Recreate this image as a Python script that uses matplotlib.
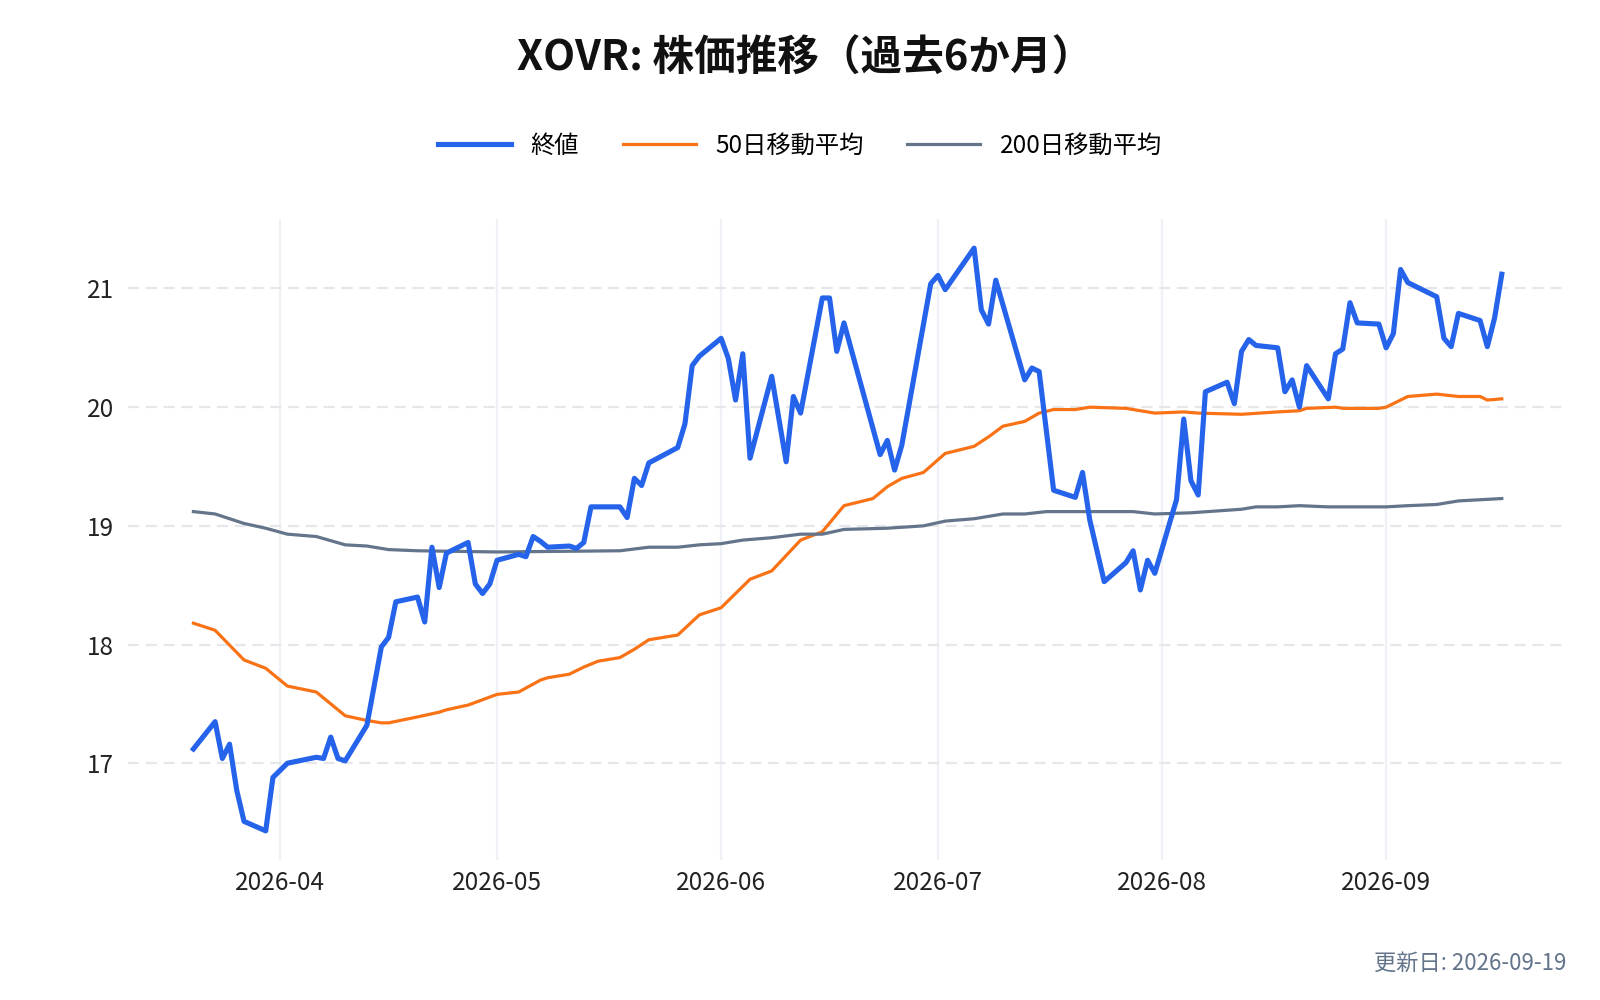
import matplotlib
matplotlib.use("Agg")
import matplotlib.pyplot as plt
import matplotlib.dates as mdates
import pandas as pd

plt.rcParams['font.family'] = ['Noto Sans CJK JP', 'DejaVu Sans']

title = "XOVR: 株価推移（過去6か月）"
series_names = ["終値", "50日移動平均", "200日移動平均"]
footer = "更新日: 2026-09-19"

close_dates = [
    "03-20", "03-23", "03-24", "03-25", "03-26", "03-27", "03-30", "03-31",
    "04-02", "04-06", "04-07", "04-08", "04-09", "04-10", "04-13", "04-15",
    "04-16", "04-17", "04-20", "04-21", "04-22", "04-23", "04-24", "04-27",
    "04-28", "04-29", "04-30", "05-01", "05-04", "05-05", "05-06", "05-07",
    "05-08", "05-11", "05-12", "05-13", "05-14", "05-18", "05-19", "05-20",
    "05-21", "05-22", "05-26", "05-27", "05-28", "05-29", "06-01", "06-02",
    "06-03", "06-04", "06-05", "06-08", "06-10", "06-11", "06-12", "06-15",
    "06-16", "06-17", "06-18", "06-23", "06-24", "06-25", "06-26", "06-30",
    "07-01", "07-02", "07-06", "07-07", "07-08", "07-09", "07-13", "07-14",
    "07-15", "07-17", "07-20", "07-21", "07-22", "07-24", "07-27", "07-28",
    "07-29", "07-30", "07-31", "08-03", "08-04", "08-05", "08-06", "08-07",
    "08-10", "08-11", "08-12", "08-13", "08-14", "08-17", "08-18", "08-19",
    "08-20", "08-21", "08-24", "08-25", "08-26", "08-27", "08-28", "08-31",
    "09-01", "09-02", "09-03", "09-04", "09-08", "09-09", "09-10", "09-11",
    "09-14", "09-15", "09-16", "09-17",
]
close_values = [
    17.12, 17.35, 17.04, 17.16, 16.77, 16.51, 16.43, 16.88,
    17.00, 17.05, 17.04, 17.22, 17.04, 17.02, 17.32, 17.98,
    18.06, 18.36, 18.40, 18.19, 18.82, 18.48, 18.77, 18.86,
    18.51, 18.43, 18.51, 18.71, 18.76, 18.74, 18.91, 18.87,
    18.82, 18.83, 18.81, 18.86, 19.16, 19.16, 19.07, 19.40,
    19.34, 19.53, 19.66, 19.86, 20.35, 20.43, 20.58, 20.41,
    20.06, 20.45, 19.57, 20.26, 19.54, 20.09, 19.95, 20.92,
    20.92, 20.47, 20.71, 19.60, 19.72, 19.47, 19.68, 21.04,
    21.11, 20.99, 21.34, 20.82, 20.70, 21.07, 20.23, 20.33,
    20.30, 19.30, 19.24, 19.45, 19.05, 18.53, 18.69, 18.79,
    18.46, 18.71, 18.60, 19.22, 19.90, 19.38, 19.26, 20.13,
    20.21, 20.03, 20.47, 20.57, 20.52, 20.50, 20.13, 20.23,
    20.00, 20.35, 20.07, 20.45, 20.49, 20.88, 20.71, 20.70,
    20.50, 20.62, 21.16, 21.05, 20.93, 20.58, 20.51, 20.79,
    20.73, 20.51, 20.75, 21.12,
]

ma50_dates = [
    "03-20", "03-23", "03-27", "03-30", "04-02", "04-06", "04-10", "04-13",
    "04-15", "04-16", "04-20", "04-23", "04-24", "04-27", "05-01", "05-04",
    "05-07", "05-08", "05-11", "05-13", "05-15", "05-18", "05-20", "05-22",
    "05-26", "05-29", "06-01", "06-03", "06-05", "06-08", "06-12", "06-15",
    "06-18", "06-22", "06-24", "06-26", "06-29", "07-02", "07-06", "07-08",
    "07-10", "07-13", "07-15", "07-17", "07-20", "07-22", "07-27", "07-31",
    "08-04", "08-06", "08-12", "08-17", "08-20", "08-21", "08-25", "08-26",
    "08-31", "09-01", "09-02", "09-04", "09-08", "09-11", "09-14", "09-15",
    "09-17",
]
ma50_values = [
    18.18, 18.12, 17.87, 17.80, 17.65, 17.60, 17.40, 17.36,
    17.34, 17.34, 17.39, 17.43, 17.45, 17.49, 17.58, 17.60,
    17.70, 17.72, 17.75, 17.81, 17.86, 17.89, 17.96, 18.04,
    18.08, 18.25, 18.31, 18.43, 18.55, 18.62, 18.88, 18.95,
    19.17, 19.23, 19.33, 19.40, 19.45, 19.61, 19.67, 19.75,
    19.84, 19.88, 19.95, 19.98, 19.98, 20.00, 19.99, 19.95,
    19.96, 19.95, 19.94, 19.96, 19.97, 19.99, 20.00, 19.99,
    19.99, 20.00, 20.03, 20.09, 20.11, 20.09, 20.09, 20.06,
    20.07,
]

ma200_dates = [
    "03-20", "03-23", "03-27", "03-30", "04-02", "04-06", "04-10", "04-13",
    "04-16", "04-20", "05-01", "05-18", "05-22", "05-26", "05-29", "06-01",
    "06-04", "06-08", "06-12", "06-15", "06-18", "06-24", "06-29", "07-02",
    "07-06", "07-10", "07-13", "07-16", "07-22", "07-28", "07-31", "08-05",
    "08-12", "08-14", "08-17", "08-20", "08-24", "09-01", "09-04", "09-08",
    "09-11", "09-14", "09-17",
]
ma200_values = [
    19.12, 19.10, 19.02, 18.98, 18.93, 18.91, 18.84, 18.83,
    18.80, 18.79, 18.78, 18.79, 18.82, 18.82, 18.84, 18.85,
    18.88, 18.90, 18.93, 18.93, 18.97, 18.98, 19.00, 19.04,
    19.06, 19.10, 19.10, 19.12, 19.12, 19.12, 19.10, 19.11,
    19.14, 19.16, 19.16, 19.17, 19.16, 19.16, 19.17, 19.18,
    19.21, 19.22, 19.23,
]

y_ticks = [17, 18, 19, 20, 21]

colors = ["#2563eb", "#f97316", "#64748b"]

def to_dates(lst):
    return pd.to_datetime(["2026-" + d for d in lst])

fig = plt.figure(figsize=(16, 10), dpi=100)
ax = fig.add_axes([0.08, 0.14, 0.8995, 0.641])

ax.plot(to_dates(close_dates), close_values, color=colors[0], lw=3.7,
        label=series_names[0], zorder=3)
ax.plot(to_dates(ma50_dates), ma50_values, color=colors[1], lw=2.3,
        label=series_names[1], zorder=2)
ax.plot(to_dates(ma200_dates), ma200_values, color=colors[2], lw=2.3,
        label=series_names[2], zorder=2)

ax.set_yticks(y_ticks)
ax.xaxis.set_major_locator(mdates.MonthLocator())
ax.xaxis.set_major_formatter(mdates.DateFormatter("%Y-%m"))

for s in ax.spines.values():
    s.set_visible(False)
ax.tick_params(axis="both", length=0, labelsize=17.5, colors="#222222")
ax.tick_params(axis="y", pad=10)
ax.tick_params(axis="x", pad=7)

ax.grid(axis="y", color="#e5e7eb", linestyle=(0, (5, 3)), lw=1.6)
ax.grid(axis="x", color="#eef1f5", linestyle="-", lw=1.6)
ax.set_axisbelow(True)

fig.text(0.503, 0.941, title, ha="center", va="center", fontsize=30,
         fontweight="bold", color="#111111")

fig.legend(loc="center", bbox_to_anchor=(0.5, 0.854), ncol=3, frameon=False,
           fontsize=17.5, handlelength=3.0, handletextpad=0.8,
           columnspacing=1.8)

fig.text(0.979, 0.037, footer, ha="right", va="center", fontsize=16,
         color="#64748b")

fig.savefig("out.png", dpi=100, facecolor="white")
